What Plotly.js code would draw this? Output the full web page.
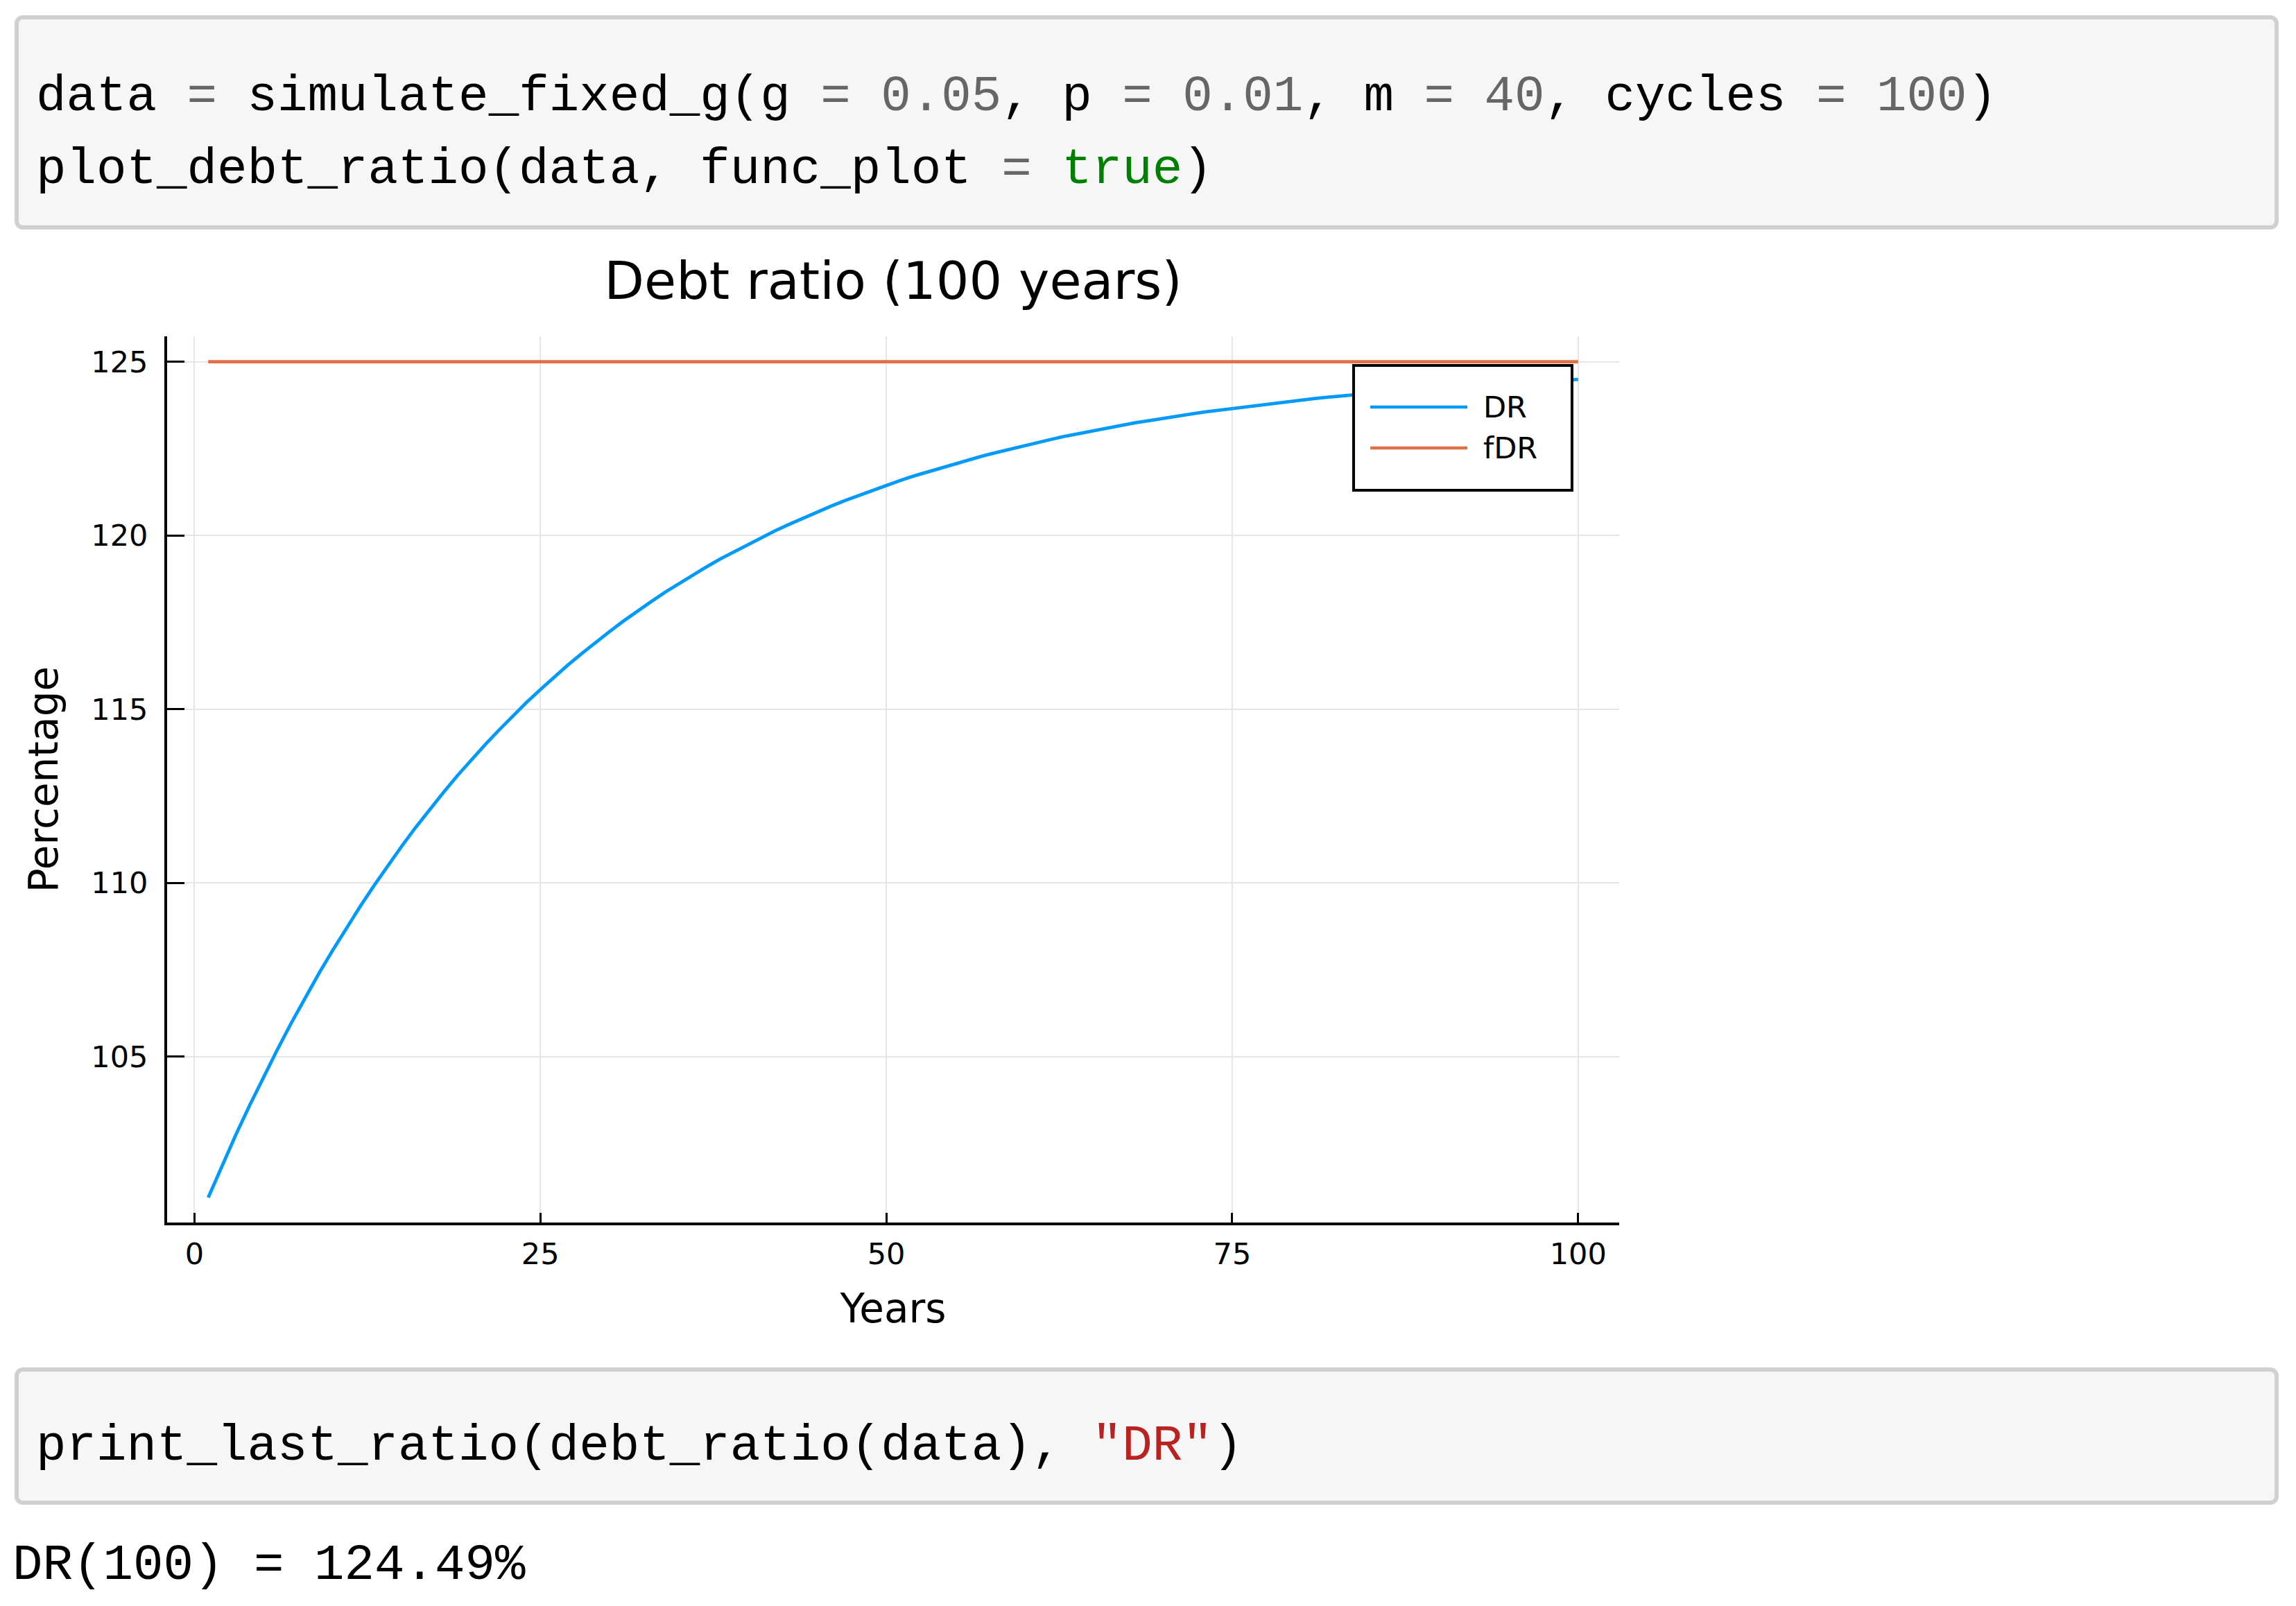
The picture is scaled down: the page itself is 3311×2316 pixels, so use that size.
<!DOCTYPE html>
<html>
<head>
<meta charset="utf-8">
<script src="https://cdn.plot.ly/plotly-3.0.1.min.js"></script>
<style>
  html, body { margin: 0; padding: 0; background: #ffffff; }
  body { width: 3311px; height: 2316px; position: relative; overflow: hidden; }
  #plot { position: absolute; left: 0; top: 0; width: 3311px; height: 2316px; }
  .block { position: absolute; box-sizing: border-box; border: 6px solid #d0d0d0; border-radius: 12px; background: #f6f6f6; z-index: 2; }
  .code { position: absolute; font-family: "Liberation Mono", "DejaVu Sans Mono", monospace; font-size: 72.5px; line-height: 105px; white-space: pre; color: #000; z-index: 3; }
  .o { color: #666666; }
  .n { color: #666666; }
  .k { color: #008000; }
  .s { color: #BA2121; }
</style>
</head>
<body>
<div id="plot"></div>
<div class="block" style="left:21px; top:22px; width:3265px; height:309px;"></div>
<div class="code" style="left:52px; top:88px;">data <span class="o">=</span> simulate_fixed_g(g <span class="o">=</span> <span class="n">0.05</span>, p <span class="o">=</span> <span class="n">0.01</span>, m <span class="o">=</span> <span class="n">40</span>, cycles <span class="o">=</span> <span class="n">100</span>)</div>
<div class="code" style="left:52px; top:193px;">plot_debt_ratio(data, func_plot <span class="o">=</span> <span class="k">true</span>)</div>
<div class="block" style="left:21px; top:1972px; width:3265px; height:198px;"></div>
<div class="code" style="left:52px; top:2034px;">print_last_ratio(debt_ratio(data), <span class="s">"DR"</span>)</div>
<div class="code" style="left:18px; top:2206px;">DR(100) = 124.49%</div>
<script>
// ---- data ----
const years = [1,2,3,4,5,6,7,8,9,10,11,12,13,14,15,16,17,18,19,20,
  21,22,23,24,25,26,27,28,29,30,31,32,33,34,35,36,37,38,39,40,
  41,42,43,44,45,46,47,48,49,50,51,52,53,54,55,56,57,58,59,60,
  61,62,63,64,65,66,67,68,69,70,71,72,73,74,75,76,77,78,79,80,
  81,82,83,84,85,86,87,88,89,90,91,92,93,94,95,96,97,98,99,100];
const drValues = [100.94,101.86,102.75,103.60,104.41,105.20,105.96,106.69,107.39,108.06,
  108.71,109.33,109.93,110.51,111.06,111.60,112.11,112.60,113.08,113.53,
  113.97,114.39,114.80,115.19,115.56,115.92,116.27,116.60,116.93,117.23,
  117.53,117.82,118.09,118.36,118.61,118.86,119.09,119.32,119.53,119.74,
  119.94,120.14,120.32,120.50,120.67,120.84,121.00,121.15,121.30,121.44,
  121.58,121.71,121.83,121.95,122.07,122.18,122.29,122.39,122.49,122.59,
  122.68,122.77,122.86,122.94,123.02,123.09,123.17,123.24,123.30,123.37,
  123.43,123.49,123.55,123.60,123.66,123.71,123.76,123.80,123.85,123.90,
  123.94,123.98,124.02,124.05,124.09,124.13,124.16,124.19,124.22,124.25,
  124.28,124.31,124.33,124.36,124.38,124.41,124.43,124.45,124.47,124.49];
const fdrValues = [125,125,125,125,125,125,125,125,125,125,125,125,125,125,125,125,125,125,125,125,
  125,125,125,125,125,125,125,125,125,125,125,125,125,125,125,125,125,125,125,125,
  125,125,125,125,125,125,125,125,125,125,125,125,125,125,125,125,125,125,125,125,
  125,125,125,125,125,125,125,125,125,125,125,125,125,125,125,125,125,125,125,125,
  125,125,125,125,125,125,125,125,125,125,125,125,125,125,125,125,125,125,125,125];
const seriesNames = ["DR", "fDR"];
const seriesColors = ["#009AFA", "#E26F46"];
const xTicks = [0, 25, 50, 75, 100];
const yTicks = [105, 110, 115, 120, 125];
const chartTitle = "Debt ratio (100 years)";
const xLabel = "Years";
const yLabel = "Percentage";

// ---- plot ----
const FONT = "DejaVu Sans, sans-serif";
const traces = [
  {x: years, y: drValues, name: seriesNames[0], type: "scatter", mode: "lines",
   line: {color: seriesColors[0], width: 4.8}},
  {x: years, y: fdrValues, name: seriesNames[1], type: "scatter", mode: "lines",
   line: {color: seriesColors[1], width: 4.8}}
];

// legend box (drawn in paper coordinates)
const lgX0 = 0.8171, lgX1 = 0.9675, lgY0 = 0.8263, lgY1 = 0.9671;
const lnX0 = 0.8286, lnX1 = 0.8954, txX = 0.9054;
const rowY = [0.9202, 0.8740];
const shapes = [
  {type: "rect", xref: "paper", yref: "paper", x0: lgX0, x1: lgX1, y0: lgY0, y1: lgY1,
   line: {color: "#000", width: 4}, fillcolor: "#ffffff", layer: "above"}
];
const annotations = [];
seriesNames.forEach((nm, i) => {
  shapes.push({type: "line", xref: "paper", yref: "paper", x0: lnX0, x1: lnX1, y0: rowY[i], y1: rowY[i],
    line: {color: seriesColors[i], width: 4.5}, layer: "above"});
  annotations.push({xref: "paper", yref: "paper", x: txX, y: rowY[i], xanchor: "left", yanchor: "middle",
    text: nm, showarrow: false, font: {family: FONT, size: 43, color: "#000"}});
});

const layout = {
  width: 3311, height: 2316,
  margin: {l: 241, r: 976, t: 485, b: 553, pad: 0},
  paper_bgcolor: "#ffffff", plot_bgcolor: "#ffffff",
  showlegend: false,
  title: {text: chartTitle, font: {family: FONT, size: 75, color: "#000"},
          xref: "paper", x: 0.5, xanchor: "center", yref: "container", y: 1 - 405/2316, yanchor: "middle"},
  xaxis: {
    range: [-1.97, 102.97], tickvals: xTicks, ticktext: xTicks.map(String),
    ticks: "inside", ticklen: 14, tickwidth: 3, tickcolor: "#000",
    showline: true, linecolor: "#000", linewidth: 4, mirror: false,
    showgrid: true, gridcolor: "#e6e6e6", gridwidth: 2, zeroline: false,
    ticklabelstandoff: 4,
    tickfont: {family: FONT, size: 43, color: "#000"},
    title: {text: xLabel, font: {family: FONT, size: 58, color: "#000"}, standoff: 36}
  },
  yaxis: {
    range: [100.22, 125.73], tickvals: yTicks, ticktext: yTicks.map(String),
    ticks: "inside", ticklen: 25, tickwidth: 3, tickcolor: "#000",
    showline: true, linecolor: "#000", linewidth: 4, mirror: false,
    showgrid: true, gridcolor: "#e6e6e6", gridwidth: 2, zeroline: false,
    ticklabelstandoff: 15,
    tickfont: {family: FONT, size: 43, color: "#000"},
    title: {text: yLabel, font: {family: FONT, size: 58, color: "#000"}, standoff: 30}
  },
  shapes: shapes,
  annotations: annotations
};

Plotly.newPlot("plot", traces, layout, {staticPlot: true, displayModeBar: false});
</script>
</body>
</html>
